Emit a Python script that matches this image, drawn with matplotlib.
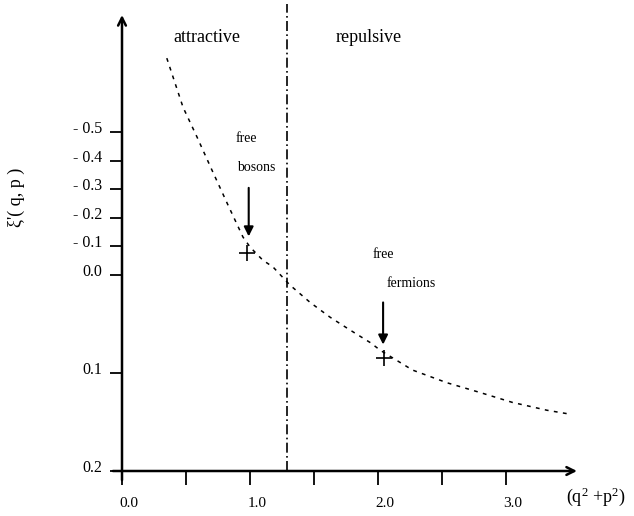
import numpy as np
import matplotlib
matplotlib.use("Agg")
import matplotlib.pyplot as plt
from matplotlib.transforms import ScaledTranslation

# ---- data ----
curve_x = [0.35, 0.477, 0.586, 0.703, 0.828, 0.945, 1.00, 1.10, 1.18, 1.26, 1.31,
           1.47, 1.625, 1.78, 1.94, 2.02, 2.27, 2.54, 2.80, 3.05, 3.32, 3.50]
curve_y = [-0.759, -0.587, -0.483, -0.367, -0.245, -0.133, -0.098, -0.052, -0.028,
           0.003, 0.010, 0.028, 0.043, 0.056, 0.069, 0.077, 0.097, 0.110, 0.120,
           0.130, 0.138, 0.142]
boson_pt = (0.98, -0.077)
fermion_pt = (2.05, 0.085)
divider_x = 1.29

xticks_major = [0.0, 1.0, 2.0, 3.0]
xtick_labels = ["0.0", "1.0", "2.0", "3.0"]
xticks_minor = [0.5, 1.5, 2.5]
yticks = [-0.5, -0.4, -0.3, -0.2, -0.1, 0.0, 0.1, 0.2]
ytick_labels = ["- 0.5", "- 0.4", "- 0.3", "- 0.2", "- 0.1", "0.0", "0.1", "0.2"]

POS_STRETCH = 3.43  # positive part of the axis is drawn stretched


def fwd(y):
    y = np.asarray(y, dtype=float)
    return np.where(y < 0, y, y * POS_STRETCH)


def inv(v):
    v = np.asarray(v, dtype=float)
    return np.where(v < 0, v, v / POS_STRETCH)


plt.rcParams['font.family'] = ['Liberation Serif', 'DejaVu Serif']
plt.rcParams['mathtext.fontset'] = 'custom'
plt.rcParams['mathtext.rm'] = 'Liberation Serif'
plt.rcParams['mathtext.it'] = 'Liberation Serif:italic'

fig = plt.figure(figsize=(6.34, 5.16), dpi=100)
ax = fig.add_axes([122 / 634, 1 - 471 / 516, 455 / 634, 456 / 516])
ax.set_yscale('function', functions=(fwd, inv))
ax.set_xlim(0, 3.555)
ax.set_ylim(0.2, -0.91)

for s in ax.spines.values():
    s.set_visible(False)

# axes with arrows
ax.annotate('', xy=(0, 1.0), xytext=(0, -0.02), xycoords='axes fraction',
            arrowprops=dict(arrowstyle='->', lw=1.8, color='black',
                            shrinkA=0, shrinkB=0, mutation_scale=14))
ax.annotate('', xy=(1.0, 0), xytext=(-0.02, 0), xycoords='axes fraction',
            arrowprops=dict(arrowstyle='->', lw=1.8, color='black',
                            shrinkA=0, shrinkB=0, mutation_scale=14))

# ticks
ax.set_xticks(xticks_major, xtick_labels)
ax.set_xticks(xticks_minor, minor=True)
ax.tick_params(axis='x', which='both', direction='out', length=10, width=1.3,
               pad=9, labelsize=11)
ax.set_yticks(yticks, ytick_labels)
ax.yaxis.set_minor_locator(matplotlib.ticker.NullLocator())
ax.tick_params(axis='y', which='both', direction='out', length=9, width=1.3,
               pad=5, labelsize=11.5)
for lab in ax.get_xticklabels():
    lab.set_transform(lab.get_transform() + ScaledTranslation(0.07, 0, fig.dpi_scale_trans))
for lab in ax.get_yticklabels():
    lab.set_transform(lab.get_transform() + ScaledTranslation(0, 0.05, fig.dpi_scale_trans))

# divider line
ax.plot([divider_x, divider_x], [0.2, -0.95], color='black', lw=1.2,
        linestyle=(0, (6, 2, 1, 2)), clip_on=False)

# curve
ax.plot(curve_x, curve_y, color='black', lw=1.1, linestyle=(0, (2.5, 3.5)))

# points
ax.plot(*boson_pt, marker='+', color='black', markersize=11, mew=1.2)
ax.plot(*fermion_pt, marker='+', color='black', markersize=11, mew=1.2)

# arrows to points
ax.annotate('', xy=(0.99, -0.135), xytext=(0.99, -0.305),
            arrowprops=dict(arrowstyle='-|>', lw=1.5, color='black',
                            mutation_scale=14, shrinkA=0, shrinkB=0))
ax.annotate('', xy=(2.04, 0.071), xytext=(2.04, 0.028),
            arrowprops=dict(arrowstyle='-|>', lw=1.5, color='black',
                            mutation_scale=14, shrinkA=0, shrinkB=0))

# labels
ax.text(0.97, -0.479, 'free', fontsize=10, ha='center', va='center')
ax.text(1.05, -0.375, 'bosons', fontsize=10, ha='center', va='center')
ax.text(2.04, -0.070, 'free', fontsize=10, ha='center', va='center')
ax.text(2.26, 0.0085, 'fermions', fontsize=10, ha='center', va='center')

fig.text(207 / 634, 1 - 37 / 516, 'attractive', fontsize=13, ha='center', va='center')
fig.text(369 / 634, 1 - 37 / 516, 'repulsive', fontsize=13, ha='center', va='center')

fig.text(16 / 634, 1 - 197 / 516, "ξ'( q, p )", fontsize=13, rotation=90,
         ha='center', va='center')
fig.text(596 / 634, 1 - 497 / 516, '(q$^2$ +p$^2$)', fontsize=13,
         ha='center', va='center')

fig.savefig('out.png', dpi=100)
